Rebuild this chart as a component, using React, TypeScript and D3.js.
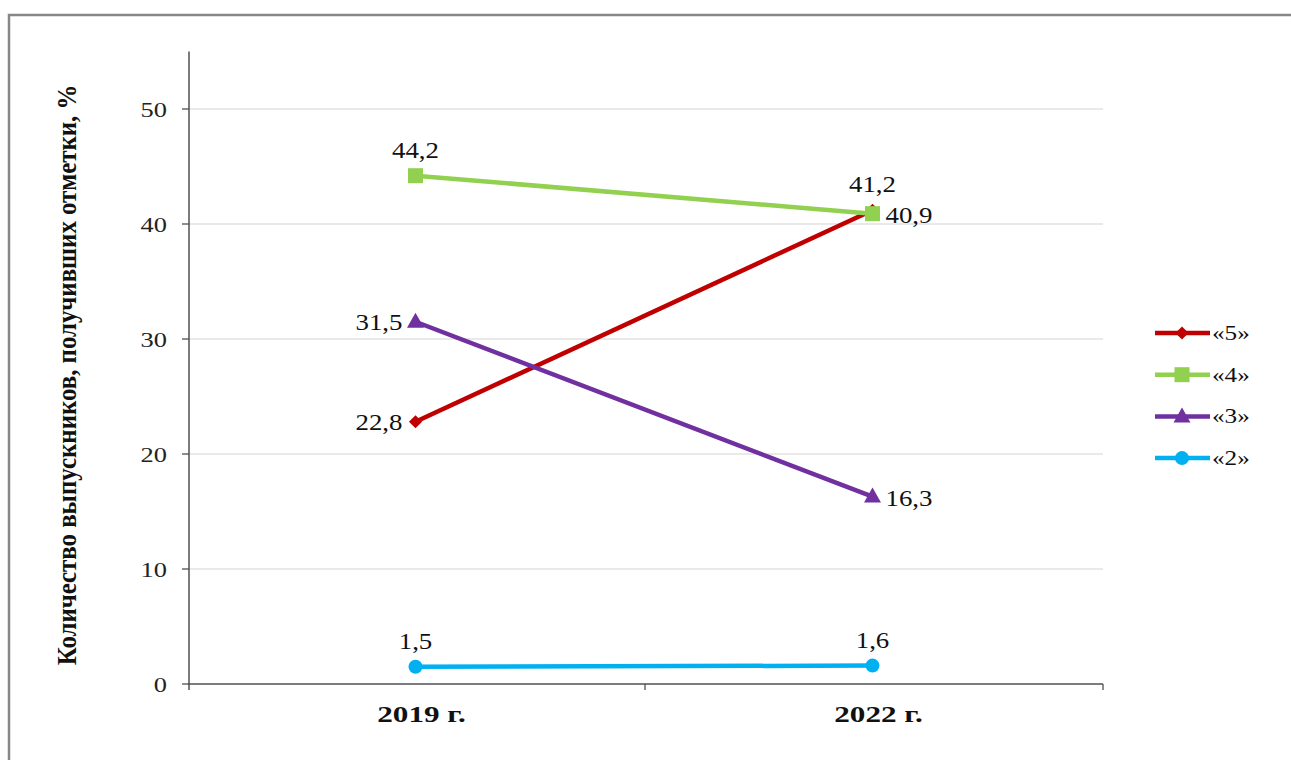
import React from "react";
import * as d3 from "d3";

const categories = ["2019 г.", "2022 г."];
const seriesNames = ["«5»", "«4»", "«3»", "«2»"];
const values5 = [22.8, 41.2];
const values4 = [44.2, 40.9];
const values3 = [31.5, 16.3];
const values2 = [1.5, 1.6];
const colors = ["#C00000", "#92D050", "#7030A0", "#00B0F0"];
const markers = ["diamond", "square", "triangle", "circle"];
// label placement per series per point: "above" | "left" | "right"
const labelPos5 = ["left", "above"];
const labelPos4 = ["above", "right"];
const labelPos3 = ["left", "right"];
const labelPos2 = ["above", "above"];
const yTicks = [0, 10, 20, 30, 40, 50];
const yTitle = "Количество выпускников, получивших отметки, %";

const FONT = "'Liberation Serif', 'Times New Roman', serif";
const SX = 1.2;

function Marker({ type, x, y, color }: { type: string; x: number; y: number; color: string }) {
  if (type === "diamond") {
    return <path d={d3.symbol(d3.symbolDiamond2, 110)()!} transform={`translate(${x},${y})`} fill={color} />;
  }
  if (type === "square") {
    return <rect x={x - 7.5} y={y - 7.5} width={15} height={15} fill={color} />;
  }
  if (type === "triangle") {
    return <path d={`M${x},${y - 9}L${x + 8.5},${y + 6}L${x - 8.5},${y + 6}Z`} fill={color} />;
  }
  return <circle cx={x} cy={y} r={7} fill={color} />;
}

export default function App() {
  const series = [values5, values4, values3, values2];
  const labelPos = [labelPos5, labelPos4, labelPos3, labelPos2];
  const x = d3.scaleBand<string>().domain(categories).range([187, 1101]);
  const y = d3.scaleLinear().domain([0, 55]).range([684, 51.5]);
  const cx = (c: string) => (x(c) as number) + x.bandwidth() / 2;
  const line = d3
    .line<number>()
    .x((_, i) => cx(categories[i]))
    .y((v) => y(v));

  const fmt = (v: number) => v.toFixed(1).replace(".", ",");

  return (
    <svg
      width={1291}
      height={760}
      style={{ position: "absolute", left: 0, top: 0, background: "#fff" }}
    >
      <rect x={9} y={15} width={1400} height={900} fill="#fff" stroke="#878787" strokeWidth={2.5} />

      {/* gridlines */}
      {yTicks.filter((t) => t > 0).map((t) => (
        <line key={t} x1={189} x2={1103} y1={y(t)} y2={y(t)} stroke="#d4d4d4" strokeWidth={1.2} />
      ))}

      {/* y axis */}
      <line x1={189} x2={189} y1={51.5} y2={690} stroke="#505050" strokeWidth={1.5} />
      {yTicks.map((t) => (
        <g key={t}>
          <line x1={182} x2={189} y1={y(t)} y2={y(t)} stroke="#505050" strokeWidth={1.3} />
          <text
            transform={`translate(167,${y(t) + 8}) scale(${SX},1)`}
            textAnchor="end"
            fontFamily={FONT}
            fontSize={22}
            fill="#222"
          >
            {t}
          </text>
        </g>
      ))}

      {/* x axis */}
      <line x1={188} x2={1103} y1={684} y2={684} stroke="#505050" strokeWidth={1.5} />
      {[645, 1103].map((px) => (
        <line key={px} x1={px} x2={px} y1={684} y2={690} stroke="#505050" strokeWidth={1.3} />
      ))}
      {categories.map((c) => (
        <text
          key={c}
          transform={`translate(${cx(c) + 6},${722}) scale(1.3,1)`}
          textAnchor="middle"
          fontFamily={FONT}
          fontSize={24}
          fontWeight="bold"
          fill="#111"
        >
          {c}
        </text>
      ))}

      {/* y title */}
      <text
        transform={`translate(76,375) rotate(-90) scale(1.13,${SX})`}
        textAnchor="middle"
        fontFamily={FONT}
        fontSize={22}
        fontWeight="bold"
        fill="#111"
      >
        {yTitle}
      </text>

      {/* series lines */}
      {series.map((vals, si) => (
        <path key={si} d={line(vals)!} fill="none" stroke={colors[si]} strokeWidth={4.5} />
      ))}
      {/* markers */}
      {series.map((vals, si) =>
        vals.map((v, i) => (
          <Marker key={`${si}-${i}`} type={markers[si]} x={cx(categories[i])} y={y(v)} color={colors[si]} />
        ))
      )}
      {/* data labels */}
      {series.map((vals, si) =>
        vals.map((v, i) => {
          const px = cx(categories[i]);
          const py = y(v);
          const pos = labelPos[si][i];
          let tx = px, ty = py - 18, anchor = "middle";
          if (pos === "left") {
            tx = px - 13;
            ty = py + 8;
            anchor = "end";
          } else if (pos === "right") {
            tx = px + 13;
            ty = py + 9;
            anchor = "start";
          }
          return (
            <text
              key={`l${si}-${i}`}
              transform={`translate(${tx},${ty}) scale(1.12,1)`}
              textAnchor={anchor}
              fontFamily={FONT}
              fontSize={24}
              fill="#111"
            >
              {fmt(v)}
            </text>
          );
        })
      )}

      {/* legend */}
      {seriesNames.map((n, si) => {
        const ly = 333 + si * 41.7;
        return (
          <g key={n}>
            <line x1={1155} x2={1210} y1={ly} y2={ly} stroke={colors[si]} strokeWidth={4.5} />
            <Marker type={markers[si]} x={1182} y={ly} color={colors[si]} />
            <text
              transform={`translate(1212,${ly + 7}) scale(${SX},1)`}
              fontFamily={FONT}
              fontSize={21}
              fill="#111"
            >
              {n}
            </text>
          </g>
        );
      })}
    </svg>
  );
}
